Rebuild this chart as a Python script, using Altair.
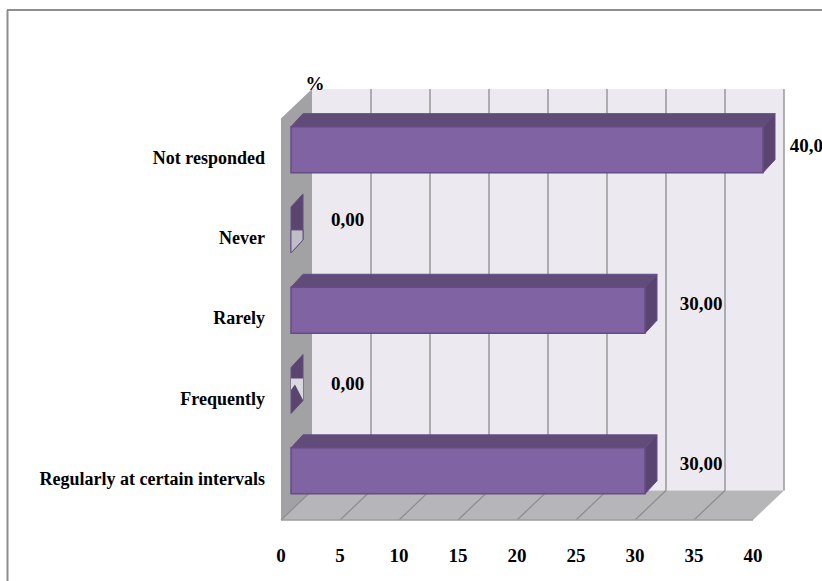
import altair as alt
import pandas as pd

# Survey responses, listed from the bottom row of the chart upward
categories = ["Regularly at certain intervals", "Frequently", "Rarely", "Never", "Not responded"]
values = [30, 0, 30, 0, 40]
value_labels = ["30,00", "0,00", "30,00", "0,00", "40,00"]
x_ticks = [0, 5, 10, 15, 20, 25, 30, 35, 40]

# Canvas and scale layout
W, H = 822, 581
PX_PER_UNIT = 11.8      # px per percentage point
PX_PER_ROW = 80.3       # px per category row
ORIGIN_X, FLOOR_Y = 281, 520

# Scale domains chosen so that the plot area fills the whole canvas
x_scale = alt.Scale(domain=[-ORIGIN_X / PX_PER_UNIT, (W - ORIGIN_X) / PX_PER_UNIT], nice=False, zero=False)
y_scale = alt.Scale(domain=[-0.5 - (H - FLOOR_Y) / PX_PER_ROW, -0.5 + FLOOR_Y / PX_PER_ROW], nice=False, zero=False)

# Fake 3D depth of the chart box and of the bars, in data units
BOX_DX = 31 / PX_PER_UNIT
BOX_DY = 29.5 / PX_PER_ROW
BAR_START = 10 / PX_PER_UNIT
BAR_DX = 12 / PX_PER_UNIT
BAR_DY = 13 / PX_PER_ROW
BAR_BOTTOM = -14 / PX_PER_ROW
BAR_TOP = 32 / PX_PER_ROW
ROW_MIN, ROW_MAX = -0.5, 4.5

# Horizontal gap from bar end to label centre, and lift of each label above its row
LABEL_GAP = {0: 4.8, 30: 4.75, 40: 4.07}
LABEL_LIFT_PX = [16, 16, 15, 19, 13]

# Where the tick labels sit relative to the floor and the left wall
CATEGORY_LABEL_X = -16 / PX_PER_UNIT
TICK_LABEL_Y = ROW_MIN - 36 / PX_PER_ROW

COL_FRONT = "#8063A3"
COL_TOP = "#614B78"
COL_SIDE = "#5A4470"
COL_EDGE = "#654C84"
COL_WALL = "#ECE9F1"
COL_LEFT = "#A2A1A4"
COL_FLOOR = "#B6B5B8"
COL_GRID = "#98989A"
COL_FRAME = "#8E8E8E"
COL_TEXT = "#000000"
FONT = "Liberation Serif"
FONT_SIZE = 19
CATEGORY_FONT_SIZE = 18


def enc_x(field="x"):
    return alt.X(f"{field}:Q", scale=x_scale, axis=None, title=None)


def enc_y(field="y"):
    return alt.Y(f"{field}:Q", scale=y_scale, axis=None, title=None)


def rect_face(rows, color):
    """Axis-aligned quad given as x, x2, y, y2 records."""
    return alt.Chart(pd.DataFrame(rows)).mark_rect(color=color).encode(
        x=enc_x(), x2="x2:Q", y=enc_y(), y2="y2:Q"
    )


def shear_x(rows, color, stroke=None):
    """Quads with horizontal top and bottom edges: one record per edge."""
    kw = {"stroke": stroke, "strokeWidth": 1} if stroke else {}
    return alt.Chart(pd.DataFrame(rows)).mark_area(orient="horizontal", color=color, **kw).encode(
        y=enc_y(), x=enc_x(), x2="x2:Q", detail="face:N"
    )


def shear_y(rows, color, stroke=None):
    """Quads with vertical left and right edges: one record per edge."""
    kw = {"stroke": stroke, "strokeWidth": 1} if stroke else {}
    return alt.Chart(pd.DataFrame(rows)).mark_area(orient="vertical", color=color, **kw).encode(
        x=enc_x(), y=enc_y(), y2="y2:Q", detail="face:N"
    )


def text_layer(df, align="center", size=FONT_SIZE):
    return alt.Chart(df).mark_text(
        font=FONT, fontWeight="bold", fontSize=size, color=COL_TEXT, align=align, baseline="middle"
    ).encode(x=enc_x(), y=enc_y(), text="t:N")


# Chart box: left wall, back wall and floor
left_wall = shear_y(
    [
        {"face": "left", "x": 0, "y": ROW_MIN, "y2": ROW_MAX},
        {"face": "left", "x": BOX_DX, "y": ROW_MIN + BOX_DY, "y2": ROW_MAX + BOX_DY},
    ],
    COL_LEFT,
)
back_wall = rect_face(
    [{"x": BOX_DX, "x2": 40 + BOX_DX, "y": ROW_MIN + BOX_DY, "y2": ROW_MAX + BOX_DY}],
    COL_WALL,
)
floor = shear_x(
    [
        {"face": "floor", "y": ROW_MIN, "x": 0, "x2": 40},
        {"face": "floor", "y": ROW_MIN + BOX_DY, "x": BOX_DX, "x2": 40 + BOX_DX},
    ],
    COL_FLOOR,
)

# Gridlines run up the back wall and across the floor
wall_grid = alt.Chart(pd.DataFrame({"v": x_ticks[1:]})).transform_calculate(
    x=f"datum.v + {BOX_DX}", y=f"{ROW_MIN + BOX_DY}", y2=f"{ROW_MAX + BOX_DY}"
).mark_rule(color=COL_GRID, strokeWidth=1.5).encode(x=enc_x(), y=enc_y(), y2="y2:Q")

floor_grid = alt.Chart(pd.DataFrame({"v": x_ticks[:-1]})).transform_calculate(
    x="datum.v", x2=f"datum.v + {BOX_DX}", y=f"{ROW_MIN}", y2=f"{ROW_MIN + BOX_DY}"
).mark_rule(color="#8C8C8E", strokeWidth=1.2).encode(x=enc_x(), x2="x2:Q", y=enc_y(), y2="y2:Q")

front_edge = alt.Chart(pd.DataFrame({"x": [0], "x2": [40], "y": [ROW_MIN]})).mark_rule(
    color="#9C9C9E", strokeWidth=1.5
).encode(x=enc_x(), x2="x2:Q", y=enc_y())

# Bars, each built from its value and row
top_rows, side_rows, front_rows = [], [], []
for row, val in enumerate(values):
    x0 = BAR_START
    x1 = BAR_START + val
    low = row + BAR_BOTTOM
    high = row + BAR_TOP
    if val > 0:
        front_rows.append({"x": x0, "x2": x1, "y": low, "y2": high})
        top_rows += [
            {"face": row, "y": high, "x": x0, "x2": x1},
            {"face": row, "y": high + BAR_DY, "x": x0 + BAR_DX, "x2": x1 + BAR_DX},
        ]
    side_rows += [
        {"face": row, "x": x1, "y": low, "y2": high},
        {"face": row, "x": x1 + BAR_DX, "y": low + BAR_DY, "y2": high + BAR_DY},
    ]

bar_front = alt.Chart(pd.DataFrame(front_rows)).mark_rect(
    color=COL_FRONT, stroke=COL_EDGE, strokeWidth=1.5
).encode(x=enc_x(), x2="x2:Q", y=enc_y(), y2="y2:Q")
bar_top = shear_x(top_rows, COL_TOP, COL_EDGE)
bar_side = shear_y(side_rows, COL_SIDE, COL_EDGE)

# Pale lower part of the zero-height bar in the "Never" row
never = 3 + BAR_BOTTOM
never_patch = shear_y(
    [
        {"face": "never", "x": BAR_START, "y": never, "y2": 3 + 9 / PX_PER_ROW},
        {"face": "never", "x": BAR_START + BAR_DX, "y": never + BAR_DY, "y2": 3 + 9 / PX_PER_ROW},
    ],
    "#BFBDC5",
    COL_EDGE,
)
# Pale sliver on the zero-height bar in the "Frequently" row
freq_patch = shear_y(
    [
        {"face": "freq", "x": BAR_START, "y": 1 + 9.5 / PX_PER_ROW, "y2": 1 + 21 / PX_PER_ROW},
        {"face": "freq", "x": BAR_START + 0.33 * BAR_DX, "y": 1 + 15 / PX_PER_ROW, "y2": 1 + 21 / PX_PER_ROW},
        {"face": "freq", "x": BAR_START + BAR_DX, "y": 1 - 0.5 / PX_PER_ROW, "y2": 1 + 21 / PX_PER_ROW},
    ],
    "#DAD8E0",
)

# Value labels beside the bars
label_df = pd.DataFrame({"row": range(5), "value": values, "t": value_labels})
label_df["x"] = label_df["value"] + BAR_START + label_df["value"].map(LABEL_GAP)
label_df["y"] = label_df["row"] + pd.Series(LABEL_LIFT_PX) / PX_PER_ROW
value_text = text_layer(label_df)

# Unit marker above the axis corner
unit_text = text_layer(pd.DataFrame({"x": [BOX_DX + 0.25], "y": [ROW_MAX + BOX_DY + 5 / PX_PER_ROW], "t": ["%"]}))

# Tick labels along the floor and category names left of the box
x_tick_text = text_layer(pd.DataFrame({"x": x_ticks, "y": TICK_LABEL_Y, "t": [str(v) for v in x_ticks]}))
category_text = text_layer(
    pd.DataFrame({"x": CATEGORY_LABEL_X, "y": list(range(5)), "t": categories}),
    align="right",
    size=CATEGORY_FONT_SIZE,
)

# Outer frame: top and left edges only
frame_top = alt.Chart(pd.DataFrame({"f": [0]})).mark_rule(color=COL_FRAME, strokeWidth=2).encode(
    x=alt.value(7), x2=alt.value(W), y=alt.value(10)
)
frame_left = alt.Chart(pd.DataFrame({"f": [0]})).mark_rule(color=COL_FRAME, strokeWidth=2).encode(
    x=alt.value(7.5), y=alt.value(10), y2=alt.value(H)
)

chart = alt.layer(
    frame_top, frame_left, left_wall, back_wall, floor, wall_grid, floor_grid, front_edge,
    bar_side, never_patch, freq_patch, bar_top, bar_front,
    value_text, unit_text, x_tick_text, category_text,
).properties(
    width=W, height=H, padding=0, autosize=alt.AutoSizeParams(type="none"), background="#FFFFFF"
).configure_view(stroke=None)

chart.save("out.html", embed_options={"renderer": "svg", "actions": False})
